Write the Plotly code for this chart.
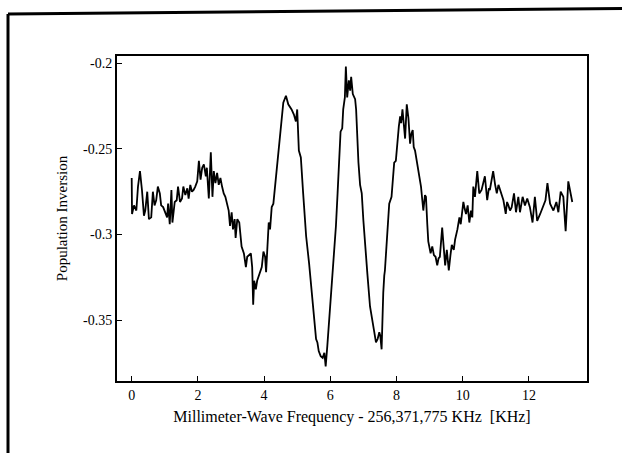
import plotly.graph_objects as go

# Frequency offset [KHz]
freq = [0.00, 0.01, 0.07, 0.14, 0.19, 0.25, 0.31, 0.37, 0.41, 0.47, 0.52, 0.59, 0.64, 0.69, 0.74, 0.79,
        0.85, 0.89, 0.95, 1.02, 1.07, 1.10, 1.15, 1.20, 1.23, 1.30, 1.36, 1.40, 1.46, 1.52, 1.56, 1.62,
        1.68, 1.72, 1.77, 1.82, 1.87, 1.92, 1.98, 2.03, 2.08, 2.13, 2.18, 2.24, 2.27, 2.33, 2.39, 2.44,
        2.48, 2.53, 2.58, 2.63, 2.68, 2.73, 2.78, 2.83, 2.88, 2.93, 2.97, 3.02, 3.06, 3.11, 3.14, 3.19,
        3.25, 3.32, 3.39, 3.45, 3.49, 3.60, 3.64, 3.67, 3.70, 3.75, 3.79, 3.86, 3.93, 3.98, 4.03, 4.06,
        4.10, 4.14, 4.18, 4.23, 4.28, 4.33, 4.38, 4.45, 4.53, 4.58, 4.66, 4.73, 4.83, 4.90, 4.96, 5.00,
        5.05, 5.11, 5.18, 5.27, 5.36, 5.44, 5.51, 5.57, 5.61, 5.65, 5.71, 5.77, 5.82, 5.86, 5.91, 5.97,
        6.04, 6.11, 6.17, 6.22, 6.27, 6.31, 6.36, 6.39, 6.44, 6.47, 6.51, 6.56, 6.60, 6.63, 6.68, 6.72,
        6.75, 6.78, 6.81, 6.85, 6.90, 6.95, 7.00, 7.05, 7.12, 7.20, 7.26, 7.32, 7.38, 7.43, 7.48, 7.51,
        7.55, 7.57, 7.60, 7.63, 7.65, 7.71, 7.78, 7.85, 7.89, 7.93, 7.98, 8.02, 8.07, 8.11, 8.14, 8.18,
        8.22, 8.26, 8.31, 8.36, 8.41, 8.45, 8.49, 8.52, 8.56, 8.64, 8.69, 8.74, 8.78, 8.81, 8.86, 8.89,
        8.93, 8.96, 9.03, 9.08, 9.13, 9.18, 9.23, 9.27, 9.31, 9.38, 9.42, 9.47, 9.52, 9.58, 9.63, 9.67,
        9.73, 9.77, 9.84, 9.90, 9.94, 9.98, 10.02, 10.06, 10.10, 10.15, 10.20, 10.25, 10.29, 10.32, 10.37, 10.44,
        10.47, 10.50, 10.57, 10.61, 10.67, 10.74, 10.79, 10.82, 10.88, 10.92, 10.98, 11.03, 11.08, 11.13, 11.18, 11.23,
        11.30, 11.34, 11.38, 11.43, 11.48, 11.55, 11.61, 11.68, 11.73, 11.81, 11.88, 11.95, 12.03, 12.11, 12.18, 12.25,
        12.34, 12.43, 12.50, 12.56, 12.64, 12.74, 12.83, 12.89, 12.96, 13.04, 13.11, 13.19, 13.24, 13.31]

# Population inversion
inversion = [-0.267, -0.288, -0.283, -0.286, -0.272, -0.263, -0.274, -0.289, -0.286, -0.275, -0.291, -0.290, -0.275, -0.283, -0.280, -0.272,
             -0.276, -0.283, -0.284, -0.287, -0.290, -0.282, -0.294, -0.274, -0.293, -0.281, -0.280, -0.272, -0.281, -0.279, -0.272, -0.277,
             -0.273, -0.279, -0.271, -0.275, -0.274, -0.272, -0.269, -0.257, -0.268, -0.261, -0.259, -0.266, -0.261, -0.279, -0.252, -0.278,
             -0.263, -0.270, -0.264, -0.271, -0.267, -0.272, -0.276, -0.278, -0.282, -0.286, -0.295, -0.287, -0.297, -0.291, -0.302, -0.291,
             -0.293, -0.307, -0.311, -0.319, -0.313, -0.311, -0.319, -0.341, -0.327, -0.332, -0.327, -0.323, -0.319, -0.310, -0.313, -0.322,
             -0.303, -0.293, -0.297, -0.284, -0.282, -0.272, -0.260, -0.247, -0.231, -0.223, -0.219, -0.224, -0.227, -0.230, -0.234, -0.227,
             -0.251, -0.255, -0.276, -0.301, -0.317, -0.334, -0.352, -0.361, -0.363, -0.368, -0.371, -0.372, -0.369, -0.377, -0.365, -0.350,
             -0.330, -0.313, -0.295, -0.276, -0.251, -0.240, -0.238, -0.227, -0.220, -0.202, -0.220, -0.210, -0.216, -0.208, -0.218, -0.220,
             -0.221, -0.227, -0.245, -0.258, -0.271, -0.276, -0.292, -0.303, -0.323, -0.342, -0.348, -0.356, -0.363, -0.361, -0.357, -0.359,
             -0.367, -0.350, -0.334, -0.324, -0.321, -0.303, -0.282, -0.278, -0.268, -0.258, -0.257, -0.247, -0.237, -0.231, -0.235, -0.227,
             -0.235, -0.244, -0.224, -0.232, -0.247, -0.241, -0.239, -0.249, -0.251, -0.260, -0.264, -0.272, -0.280, -0.286, -0.277, -0.278,
             -0.294, -0.304, -0.311, -0.307, -0.312, -0.313, -0.318, -0.314, -0.313, -0.296, -0.306, -0.318, -0.309, -0.321, -0.312, -0.306,
             -0.309, -0.303, -0.297, -0.290, -0.294, -0.286, -0.281, -0.285, -0.288, -0.283, -0.293, -0.286, -0.290, -0.272, -0.278, -0.263,
             -0.271, -0.276, -0.274, -0.270, -0.266, -0.280, -0.273, -0.274, -0.268, -0.263, -0.271, -0.276, -0.271, -0.274, -0.278, -0.280,
             -0.288, -0.281, -0.283, -0.286, -0.284, -0.276, -0.287, -0.278, -0.287, -0.278, -0.283, -0.279, -0.284, -0.293, -0.278, -0.292,
             -0.288, -0.284, -0.280, -0.270, -0.282, -0.286, -0.281, -0.287, -0.275, -0.278, -0.298, -0.269, -0.274, -0.281]

x_ticks = [0, 2, 4, 6, 8, 10, 12]
x_tick_labels = ["0", "2", "4", "6", "8", "10", "12"]
y_ticks = [-0.35, -0.3, -0.25, -0.2]
y_tick_labels = ["-0.35", "-0.3", "-0.25", "-0.2"]

FONT = "Liberation Serif"

fig = go.Figure()
fig.add_trace(go.Scatter(x=freq, y=inversion, mode="lines",
                         line=dict(color="black", width=1.8), showlegend=False,
                         hoverinfo="x+y"))

fig.update_layout(
    width=622, height=453,
    margin=dict(l=117, r=35, t=56, b=72),
    paper_bgcolor="white", plot_bgcolor="white",
    font=dict(family=FONT, color="black"),
    xaxis=dict(range=[-0.444, 13.755], tickvals=x_ticks, ticktext=x_tick_labels,
               ticks="inside", ticklen=5, tickwidth=1.2, tickcolor="black",
               showline=True, linecolor="black", linewidth=2, mirror=True,
               showgrid=False, zeroline=False,
               tickfont=dict(family=FONT, size=14, color="black"),
               title=dict(text="Millimeter-Wave Frequency - 256,371,775 KHz  [KHz]",
                          font=dict(family=FONT, size=16, color="black"), standoff=9)),
    yaxis=dict(range=[-0.3855, -0.1958], tickvals=y_ticks, ticktext=y_tick_labels,
               ticks="inside", ticklen=5, tickwidth=1.2, tickcolor="black",
               showline=True, linecolor="black", linewidth=2, mirror=True,
               showgrid=False, zeroline=False,
               tickfont=dict(family=FONT, size=14, color="black"),
               title=dict(text="Population Inversion",
                          font=dict(family=FONT, size=15, color="black"), standoff=12)),
    shapes=[
        dict(type="line", xref="paper", yref="paper", x0=-0.2319, y0=1.1292, x1=1.2, y1=1.1474,
             line=dict(color="black", width=3)),
        dict(type="line", xref="paper", yref="paper", x0=-0.2319, y0=1.1292, x1=-0.2319, y1=-0.3,
             line=dict(color="black", width=3)),
    ],
)

fig.write_html("out.html", config={"displayModeBar": False})
